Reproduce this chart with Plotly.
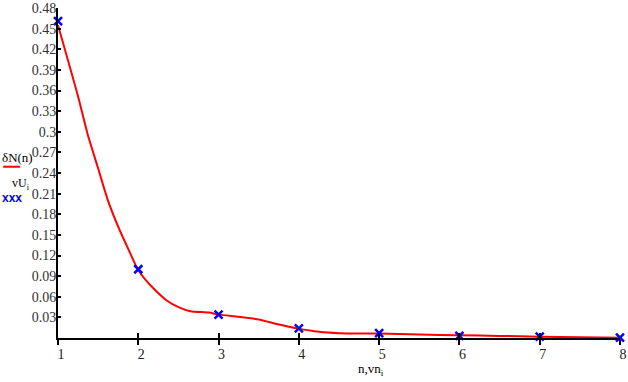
import plotly.graph_objects as go

# data
n_points = [1, 2, 3, 4, 5, 6, 7, 8]
vU_values = [0.461, 0.100, 0.034, 0.014, 0.007, 0.003, 0.002, 0.0005]

curve_x = [1.0, 1.246, 1.37, 1.494, 1.619, 1.764, 1.909, 1.988, 2.08, 2.2, 2.35,
           2.5, 2.65, 2.88, 3.01, 3.25, 3.50, 3.74, 3.98, 4.25, 4.50, 5.0, 5.5, 6.0,
           6.5, 7.0, 7.5, 8.0]
curve_y = [0.455, 0.353, 0.296, 0.249, 0.201, 0.158, 0.121, 0.101, 0.086, 0.071, 0.055,
           0.045, 0.039, 0.037, 0.034, 0.031, 0.027, 0.020, 0.014, 0.009, 0.007, 0.0065, 0.005,
           0.004, 0.003, 0.002, 0.001, 0.0004]

y_ticks = [0.03, 0.06, 0.09, 0.12, 0.15, 0.18, 0.21, 0.24, 0.27, 0.3, 0.33, 0.36,
           0.39, 0.42, 0.45, 0.48]
y_tick_text = ["0.03", "0.06", "0.09", "0.12", "0.15", "0.18", "0.21", "0.24", "0.27",
               "0.3", "0.33", "0.36", "0.39", "0.42", "0.45", "0.48"]
x_ticks = [1, 2, 3, 4, 5, 6, 7, 8]

fig = go.Figure()
fig.add_trace(go.Scatter(x=curve_x, y=curve_y, mode="lines",
                         line=dict(color="#ff0000", width=2, shape="spline", smoothing=0.6),
                         showlegend=False, hoverinfo="skip"))
fig.add_trace(go.Scatter(x=n_points, y=vU_values, mode="markers",
                         marker=dict(symbol="x-thin", size=8, line=dict(color="#0000ff", width=2.5)),
                         showlegend=False, cliponaxis=False))
# second x-axis only for ticks crossing the axis line
fig.add_trace(go.Scatter(x=[1, 8], y=[None, None], xaxis="x2", showlegend=False,
                         hoverinfo="skip"))

serif = "Times New Roman, Liberation Serif, serif"
fig.update_layout(
    width=628, height=382,
    margin=dict(l=58, r=6, t=1, b=44),
    paper_bgcolor="white", plot_bgcolor="white",
    font=dict(family=serif, size=13, color="#222222"),
    xaxis=dict(range=[1, 8], tickvals=x_ticks, ticks="outside", ticklen=5, tickwidth=2,
               tickcolor="black", showline=True, linecolor="black", linewidth=2,
               showgrid=False, zeroline=False, ticklabeloverflow="allow",
               ticklabelshift=3, ticklabelstandoff=-3,
               tickfont=dict(family=serif, size=14, color="#222")),
    xaxis2=dict(range=[1, 8], overlaying="x", side="bottom", tickvals=x_ticks,
                ticks="inside", ticklen=5, tickwidth=2, tickcolor="black",
                showticklabels=False, showline=False, showgrid=False, zeroline=False),
    yaxis=dict(range=[0, 0.48], tickvals=y_ticks, ticktext=y_tick_text, ticks="inside",
               ticklen=3, tickwidth=2, tickcolor="black", showline=True, linecolor="black",
               linewidth=2, showgrid=False, zeroline=False, ticklabeloverflow="allow",
               ticklabelstandoff=-3,
               tickfont=dict(family=serif, size=14, color="#333")),
    annotations=[
        dict(text="δN(n)", x=-0.103, y=0.548, xref="paper", yref="paper", xanchor="left",
             yanchor="middle", showarrow=False, font=dict(family=serif, size=13, color="black")),
        dict(text="vU<sub>i</sub>", x=-0.085, y=0.468, xref="paper", yref="paper",
             xanchor="left", yanchor="middle", showarrow=False,
             font=dict(family=serif, size=12, color="black")),
        dict(text="<b>xxx</b>", x=-0.104, y=0.424, xref="paper", yref="paper", xanchor="left",
             yanchor="middle", showarrow=False, font=dict(family="Liberation Sans", size=12, color="#0000ff")),
        dict(text="n,vn<sub>i</sub>", x=0.557, y=-0.095, xref="paper", yref="paper",
             xanchor="center", yanchor="middle", showarrow=False,
             font=dict(family=serif, size=13, color="black")),
    ],
    shapes=[
        dict(type="line", xref="paper", yref="paper", x0=-0.0975, x1=-0.0674, y0=0.519, y1=0.519,
             line=dict(color="#ff0000", width=2)),
    ],
)
fig.write_html("out.html", config={"displayModeBar": False},
               post_script="document.body.style.margin='0';document.body.style.overflow='hidden';")
